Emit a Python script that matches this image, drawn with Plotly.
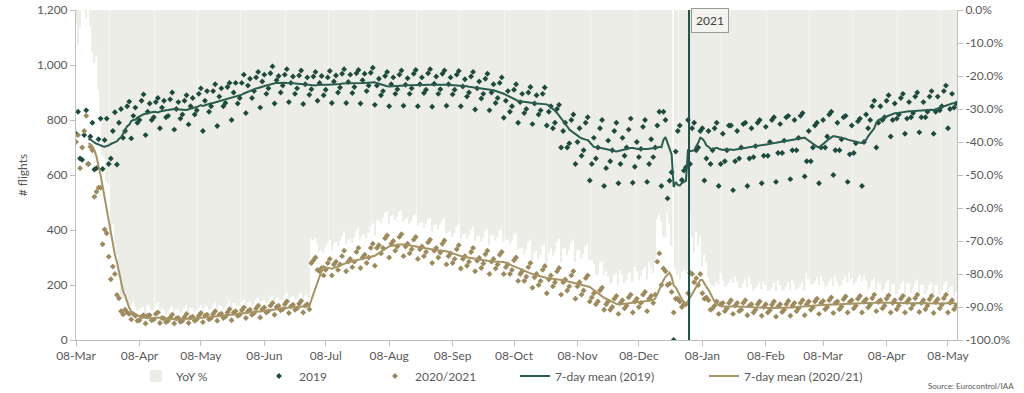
import pandas as pd
import plotly.graph_objects as go

start_date = "2020-03-08"

# daily flights, same-weekday 2019 comparison (Sun..Sat per row)
flights_2019 = [
    750, 830, 660, 655, 745, 835, 640,
    740, 790, 620, 625, 730, 805, 622,
    727, 805, 640, 660, 760, 828, 638,
    790, 840, 735, 760, 850, 867, 733,
    815, 845, 790, 800, 870, 893, 745,
    830, 860, 800, 810, 865, 880, 770,
    845, 870, 810, 815, 875, 900, 765,
    840, 865, 805, 820, 870, 890, 784,
    850, 880, 820, 835, 895, 915, 760,
    870, 905, 830, 850, 905, 930, 778,
    885, 915, 850, 862, 920, 935, 800,
    900, 935, 860, 880, 935, 965, 825,
    925, 950, 880, 905, 955, 975, 845,
    940, 965, 895, 915, 970, 995, 860,
    945, 960, 900, 925, 965, 985, 865,
    935, 958, 895, 915, 962, 980, 858,
    930, 955, 892, 912, 958, 975, 870,
    935, 960, 890, 910, 955, 978, 862,
    940, 962, 900, 918, 968, 985, 862,
    938, 965, 898, 920, 970, 982, 860,
    945, 968, 905, 925, 972, 990, 855,
    925, 950, 890, 905, 960, 975, 850,
    930, 955, 895, 912, 965, 980, 852,
    928, 952, 895, 915, 968, 982, 850,
    930, 955, 898, 910, 970, 985, 848,
    932, 958, 895, 912, 968, 980, 852,
    930, 955, 893, 910, 965, 978, 850,
    922, 948, 885, 900, 958, 975, 838,
    915, 940, 878, 895, 950, 968, 835,
    900, 930, 862, 880, 935, 955, 808,
    870, 905, 830, 850, 910, 930, 790,
    865, 895, 825, 840, 900, 920, 785,
    860, 890, 820, 835, 895, 918, 780,
    830, 850, 770, 790, 840, 855, 700,
    760, 790, 700, 715, 800, 820, 640,
    720, 770, 670, 690, 790, 810, 580,
    640, 735, 660, 700, 770, 800, 560,
    625, 725, 650, 690, 760, 790, 570,
    640, 735, 670, 700, 765, 805, 572,
    630, 720, 665, 695, 775, 800, 575,
    640, 730, 665, 700, 780, 830, 560,
    830, 800, 515, 579, 610, 0, 685,
    760, 780, 582, 616, 628, 800, 640,
    770, 790, 690, 700, 760, 770, 580,
    660, 760, 640, 690, 770, 790, 560,
    640, 750, 650, 690, 780, 780, 545,
    650, 760, 660, 700, 785, 790, 560,
    660, 770, 665, 705, 790, 800, 570,
    670, 775, 670, 720, 800, 810, 575,
    680, 785, 680, 725, 810, 815, 585,
    690, 800, 690, 735, 815, 825, 595,
    650, 760, 650, 700, 780, 790, 570,
    700, 800, 700, 740, 820, 830, 600,
    690, 790, 690, 730, 810, 815, 575,
    675, 780, 680, 715, 795, 805, 560,
    720, 820, 770, 800, 850, 870, 700,
    790, 850, 800, 810, 870, 890, 740,
    800, 860, 805, 820, 880, 895, 750,
    805, 865, 810, 825, 885, 900, 755,
    810, 865, 810, 830, 885, 905, 750,
    830, 885, 835, 850, 905, 925, 770,
    840, 895, 845, 860,
]

flights_2020_21 = [
    720, 745, 625, 700, 760, 815, 640,
    703, 690, 521, 539, 554, 554, 348,
    402, 388, 303, 221, 267, 240, 164,
    152, 105, 93, 110, 100, 95, 75,
    95, 88, 70, 72, 85, 90, 60,
    88, 90, 72, 75, 95, 100, 62,
    80, 78, 65, 70, 82, 92, 60,
    78, 80, 66, 70, 84, 95, 62,
    82, 85, 70, 75, 88, 98, 65,
    88, 92, 75, 80, 95, 105, 70,
    92, 96, 80, 85, 100, 112, 72,
    100, 105, 88, 92, 108, 118, 80,
    105, 110, 92, 98, 115, 125, 82,
    112, 118, 100, 105, 125, 135, 92,
    120, 125, 108, 112, 130, 140, 98,
    122, 128, 110, 115, 132, 142, 100,
    125, 130, 112, 280, 290, 300, 255,
    250, 262, 235, 255, 280, 295, 235,
    275, 285, 255, 275, 305, 325, 250,
    285, 295, 265, 285, 320, 335, 262,
    300, 310, 280, 300, 335, 350, 270,
    335, 345, 315, 335, 370, 380, 300,
    350, 360, 325, 340, 375, 385, 305,
    340, 350, 315, 330, 365, 375, 295,
    330, 340, 305, 320, 355, 365, 280,
    325, 335, 300, 318, 350, 362, 275,
    305, 315, 280, 295, 330, 345, 260,
    295, 305, 270, 285, 320, 335, 250,
    288, 298, 262, 278, 312, 325, 240,
    285, 295, 260, 275, 310, 320, 240,
    265, 275, 240, 255, 290, 300, 215,
    240, 250, 215, 230, 265, 280, 190,
    228, 240, 200, 215, 255, 268, 170,
    220, 235, 195, 210, 250, 262, 165,
    210, 220, 180, 195, 235, 250, 150,
    195, 210, 165, 180, 225, 235, 140,
    155, 170, 130, 140, 180, 190, 110,
    130, 140, 110, 120, 150, 160, 95,
    135, 145, 115, 125, 155, 165, 100,
    140, 150, 120, 135, 165, 175, 105,
    150, 160, 135, 165, 285, 315, 200,
    260, 250, 200, 205, 175, 100, 150,
    150, 140, 120, 130, 130, 170, 245,
    240, 210, 225, 200, 240, 170, 150,
    155, 145, 110, 115, 125, 140, 95,
    130, 135, 105, 115, 135, 145, 95,
    125, 135, 105, 110, 135, 145, 90,
    125, 130, 100, 110, 130, 140, 88,
    120, 130, 100, 108, 128, 140, 85,
    122, 130, 102, 110, 130, 142, 88,
    125, 135, 105, 115, 135, 145, 90,
    130, 140, 110, 118, 140, 150, 95,
    135, 142, 112, 120, 145, 155, 98,
    135, 140, 112, 122, 148, 158, 100,
    138, 145, 115, 125, 150, 160, 100,
    140, 148, 118, 128, 152, 165, 105,
    138, 145, 115, 125, 150, 162, 100,
    135, 145, 112, 125, 150, 160, 100,
    138, 148, 115, 128, 152, 165, 102,
    135, 145, 112, 125, 148, 160, 98,
    138, 148, 115, 128, 152, 165, 100,
    135, 145, 112, 125,
]

tick_dates = ["2020-03-08", "2020-04-08", "2020-05-08", "2020-06-08", "2020-07-08",
              "2020-08-08", "2020-09-08", "2020-10-08", "2020-11-08", "2020-12-08",
              "2021-01-08", "2021-02-08", "2021-03-08", "2021-04-08", "2021-05-08"]
tick_labels = ["08-Mar", "08-Apr", "08-May", "08-Jun", "08-Jul", "08-Aug", "08-Sep",
               "08-Oct", "08-Nov", "08-Dec", "08-Jan", "08-Feb", "08-Mar", "08-Apr", "08-May"]
yoy_ticks = [0, -10, -20, -30, -40, -50, -60, -70, -80, -90, -100]
yoy_labels = ["0.0%", "-10.0%", "-20.0%", "-30.0%", "-40.0%", "-50.0%",
              "-60.0%", "-70.0%", "-80.0%", "-90.0%", "-100.0%"]

dates = pd.date_range(start_date, periods=len(flights_2019), freq="D")
s19 = pd.Series(flights_2019, index=dates, dtype=float)
s20 = pd.Series(flights_2020_21, index=dates, dtype=float)
yoy = ((s20 / s19.where(s19 > 0)) - 1) * 100
mean19 = s19.rolling(7).mean()
mean20 = s20.rolling(7).mean()

C19 = "#1d4a3d"
C19L = "#2a5c50"
C20 = "#9d8a5c"
C20L = "#a69466"
BAR = "#ededE7"
GREY = "#595959"
AX = "#bfbfbf"
FONT = "Lato"

W, H = 1024, 393
PL, PR, PT, PB = 76, 957, 10, 340  # plot area in pixels
PW, PHt = PR - PL, PB - PT


def px_x(px):
    return (px - PL) / PW


def px_y(py):
    return (PB - py) / PHt


fig = go.Figure()
fig.add_trace(go.Bar(x=dates, y=yoy, name="YoY %", marker=dict(color=BAR, line=dict(width=0)),
                     yaxis="y", legend="legend"))
fig.add_trace(go.Scatter(x=dates, y=s19, mode="markers", name="2019",
                         marker=dict(color=C19, size=4.5, symbol="diamond"),
                         yaxis="y2", legend="legend2"))
fig.add_trace(go.Scatter(x=dates, y=s20, mode="markers", name="2020/2021",
                         marker=dict(color=C20, size=4.5, symbol="diamond"),
                         yaxis="y2", legend="legend3"))
fig.add_trace(go.Scatter(x=dates, y=mean19, mode="lines", name="7-day mean (2019)",
                         line=dict(color=C19L, width=2), yaxis="y2", legend="legend4"))
fig.add_trace(go.Scatter(x=dates, y=mean20, mode="lines", name="7-day mean (2020/21)",
                         line=dict(color=C20L, width=2), yaxis="y2", legend="legend5"))

line_x = pd.Timestamp("2021-01-01 12:00")
fig.add_shape(type="line", x0=line_x, x1=line_x, y0=0, y1=1, xref="x", yref="paper",
              line=dict(color="#234f44", width=2))
fig.add_annotation(x=line_x, y=1, xref="x", yref="paper", text="2021", showarrow=False,
                   xanchor="left", yanchor="top", xshift=2, yshift=2,
                   font=dict(family=FONT, size=12, color="#404040"),
                   bgcolor="#f3f3ef", bordercolor="#9a9a9a", borderwidth=1, borderpad=4)
fig.add_annotation(x=px_x(1016), y=px_y(386), xref="paper", yref="paper",
                   text="Source: Eurocontrol/IAA",
                   showarrow=False, xanchor="right", yanchor="middle",
                   font=dict(family=FONT, size=8, color=GREY))

leg_common = dict(orientation="h", yanchor="middle", y=px_y(376), xanchor="left",
                  font=dict(family=FONT, size=12, color=GREY), bgcolor="rgba(0,0,0,0)",
                  itemwidth=30)
fig.update_layout(
    width=W, height=H,
    margin=dict(l=PL, r=W - PR, t=PT, b=H - PB, autoexpand=False),
    paper_bgcolor="white", plot_bgcolor="white",
    font=dict(family=FONT, size=12, color=GREY),
    bargap=0.22,
    showlegend=True,
    legend=dict(x=px_x(136), **leg_common),
    legend2=dict(x=px_x(259), **leg_common),
    legend3=dict(x=px_x(375), **leg_common),
    legend4=dict(x=px_x(515), **leg_common),
    legend5=dict(x=px_x(704), **leg_common),
    xaxis=dict(type="date", range=["2020-03-08", "2021-05-12 10:00"],
               tickvals=tick_dates, ticktext=tick_labels, ticks="outside", ticklen=5,
               tickcolor=AX, showline=True, linecolor=AX, linewidth=1, showgrid=False,
               zeroline=False, tickfont=dict(family=FONT, size=12, color=GREY)),
    yaxis=dict(side="right", range=[-100, 0], tickvals=yoy_ticks, ticktext=yoy_labels,
               ticks="outside", ticklen=5, tickcolor=AX, showline=True, linecolor=AX,
               showgrid=False, zeroline=False, tickfont=dict(family=FONT, size=12, color=GREY)),
    yaxis2=dict(side="left", overlaying="y", range=[0, 1200], dtick=200, tickformat=",",
                ticks="outside", ticklen=5, tickcolor=AX, showline=True, linecolor=AX,
                showgrid=False, zeroline=False, tickfont=dict(family=FONT, size=12, color=GREY),
                title=dict(text="# flights", standoff=6, font=dict(family=FONT, size=12, color=GREY))),
)

fig.write_html("out.html", config={"displayModeBar": False},
               post_script="document.body.style.margin='0';document.body.style.overflow='hidden';")
